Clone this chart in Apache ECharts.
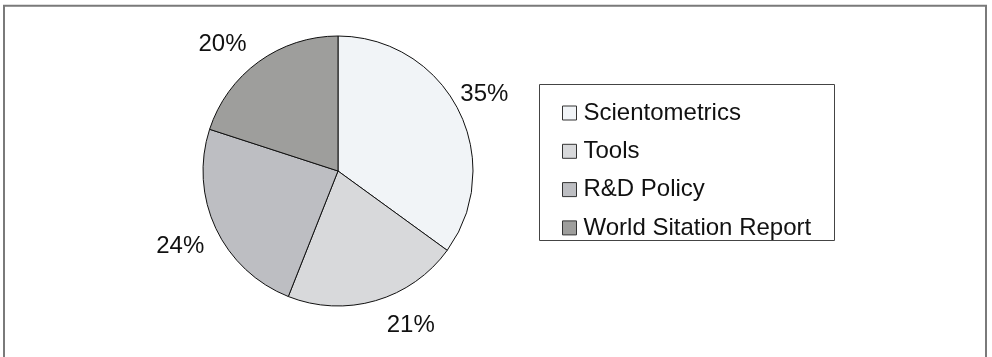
<!DOCTYPE html>
<html>
<head>
<meta charset="utf-8">
<script src="https://cdn.jsdelivr.net/npm/echarts@6/dist/echarts.min.js"></script>
<style>
  html, body { margin: 0; padding: 0; background: #fff; }
  #chart { width: 992px; height: 357px; }
</style>
</head>
<body>
<div id="chart"></div>
<script>
// Share of publications by topic
const categories = ['Scientometrics', 'Tools', 'R&D Policy', 'World Sitation Report'];
const shares = [35, 21, 24, 20];
const sliceColors = ['#f1f4f7', '#d8d9db', '#bdbec2', '#9e9e9c'];
// nudges for the percent labels around the pie
const labelNudges = [[-6, 1], [25, -10], [-3, 3], [-15, 12]];

const FONT = '"Liberation Sans", Arial, Helvetica, sans-serif';
const CX = 338, CY = 171, R = 135;

const pieData = categories.map((name, i) => ({
  name,
  value: shares[i],
  itemStyle: { color: sliceColors[i] }
}));

// Percent labels ride on a transparent ring just outside the pie
const labelRing = categories.map((name, i) => ({
  name,
  value: shares[i],
  itemStyle: { color: 'rgba(0,0,0,0)' },
  label: { offset: labelNudges[i] }
}));

const chart = echarts.init(document.getElementById('chart'), null, { renderer: 'canvas' });

chart.setOption({
  backgroundColor: '#ffffff',
  animation: false,
  legend: {
    orient: 'vertical',
    left: 557,
    top: 96,
    itemWidth: 14,
    itemHeight: 14,
    itemGap: 14.3,
    icon: 'rect',
    selectedMode: false,
    data: categories.map((name, i) => ({
      name,
      itemStyle: { color: sliceColors[i], borderColor: '#333', borderWidth: 1 }
    })),
    textStyle: {
      fontFamily: FONT,
      fontSize: 24,
      color: '#111',
      padding: [0, 0, 0, 2]
    }
  },
  graphic: [
    {
      type: 'rect',
      silent: true,
      shape: { x: 4, y: 5.7, width: 982, height: 400 },
      style: { fill: 'none', stroke: '#7a7a7a', lineWidth: 2 }
    },
    {
      type: 'rect',
      silent: true,
      shape: { x: 539.5, y: 84.5, width: 295, height: 156 },
      style: { fill: 'none', stroke: '#444', lineWidth: 1 }
    }
  ],
  series: [
    {
      type: 'pie',
      center: [CX, CY],
      radius: R,
      startAngle: 90,
      clockwise: true,
      silent: true,
      label: { show: false },
      labelLine: { show: false },
      itemStyle: { borderColor: '#111', borderWidth: 1 },
      data: pieData
    },
    {
      type: 'pie',
      center: [CX, CY],
      radius: [150, 186],
      startAngle: 90,
      clockwise: true,
      silent: true,
      labelLine: { show: false },
      label: {
        show: true,
        position: 'inside',
        formatter: '{c}%',
        fontFamily: FONT,
        fontSize: 24,
        color: '#111'
      },
      itemStyle: { borderWidth: 0 },
      data: labelRing
    }
  ]
});
</script>
</body>
</html>
